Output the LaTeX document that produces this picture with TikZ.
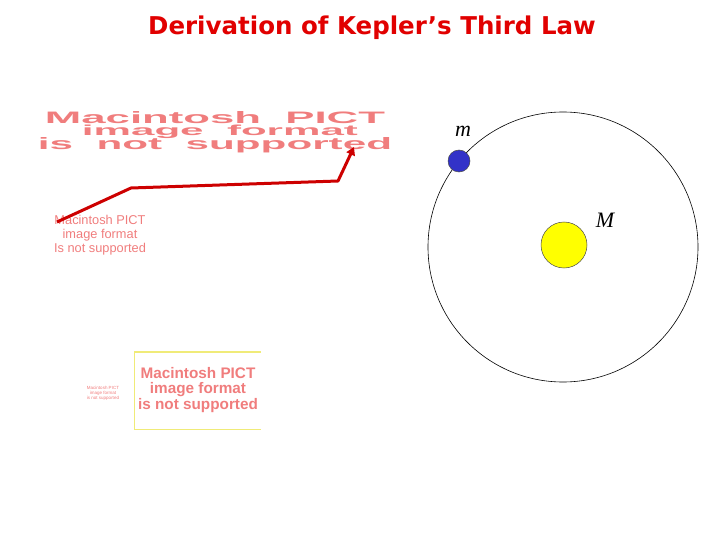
\documentclass[tikz,border=0pt]{standalone}
\usepackage{fontspec}
\setmainfont{Liberation Sans}
\newfontfamily\titlefont{DejaVu Sans}
\newfontfamily\serifit{Liberation Serif}
\usetikzlibrary{arrows.meta}
\definecolor{titlered}{RGB}{225,0,0}
\definecolor{pict}{RGB}{240,125,125}
\definecolor{arrowred}{RGB}{205,0,0}
\definecolor{planetblue}{RGB}{50,50,200}
\definecolor{sunyellow}{RGB}{255,255,0}
\definecolor{boxyellow}{RGB}{240,235,120}
\tikzset{
  pictline/.style={text=pict, font=\bfseries, inner sep=0pt},
  pictsmall/.style={text=pict, align=center, inner sep=0pt},
  pointer/.style={draw=arrowred, line width=3pt, line join=round, -{Triangle[length=8pt,width=9pt]}},
  body/.style={circle, draw=black!70, line width=0.5pt, inner sep=0pt},
  label/.style={font=\serifit\itshape\fontsize{22}{22}\selectfont, inner sep=0pt}
}
\begin{document}
\begin{tikzpicture}[x=1pt,y=-1pt]
\useasboundingbox (0,0) rectangle (720,540);
% title
\node[text=titlered, font=\titlefont\bfseries\fontsize{24.5}{24.5}\selectfont, inner sep=0pt] (title) at (372,28) {Derivation of Kepler’s Third Law};
% large stretched PICT text
\node[pictline, anchor=base] (p1) at (215,124) {\resizebox{340pt}{12pt}{Macintosh\ \ PICT}};
\node[pictline, anchor=base] (p2) at (220,136) {\resizebox{276pt}{10.5pt}{image\ \ format}};
\node[pictline, anchor=base] (p3) at (215,150) {\resizebox{354pt}{12pt}{is\ \ not\ \ supported}};
% small PICT text
\node[pictsmall, font=\fontsize{12.8}{14}\selectfont] (s1) at (100,235) {Macintosh PICT\\image format\\Is not supported};
% arrow
\coordinate (a0) at (57,222);
\coordinate (a1) at (131,188);
\coordinate (a2) at (338,181);
\coordinate (a3) at (354,147);
\draw[pointer] (a0) -- (a1) -- (a2) -- (a3);
% tiny text
\node[pictsmall, font=\fontsize{4.5}{5}\selectfont] (t1) at (103,393) {Macintosh PICT\\image format\\is not supported};
% box
\coordinate (b1) at (261,352);
\coordinate (b2) at (134.5,352);
\coordinate (b3) at (134.5,429.5);
\coordinate (b4) at (261,429.5);
\draw[boxyellow, line width=1.2pt] (b1) -- (b2) -- (b3) -- (b4);
\node[pictsmall, font=\bfseries\fontsize{15.3}{15.5}\selectfont] (bt) at (198,390) {Macintosh PICT\\image format\\is not supported};
% orbit
\node[circle, draw=black, line width=0.6pt, minimum size=270pt, inner sep=0pt] (orbit) at (563,247) {};
\node[body, fill=sunyellow, minimum size=46pt] (sun) at (564,245) {};
\node[body, fill=planetblue, minimum size=22pt] (planet) at (459,161) {};
\node[label] (m) at (463,131) {m};
\node[label] (M) at (605,220) {M};
\end{tikzpicture}
\end{document}
